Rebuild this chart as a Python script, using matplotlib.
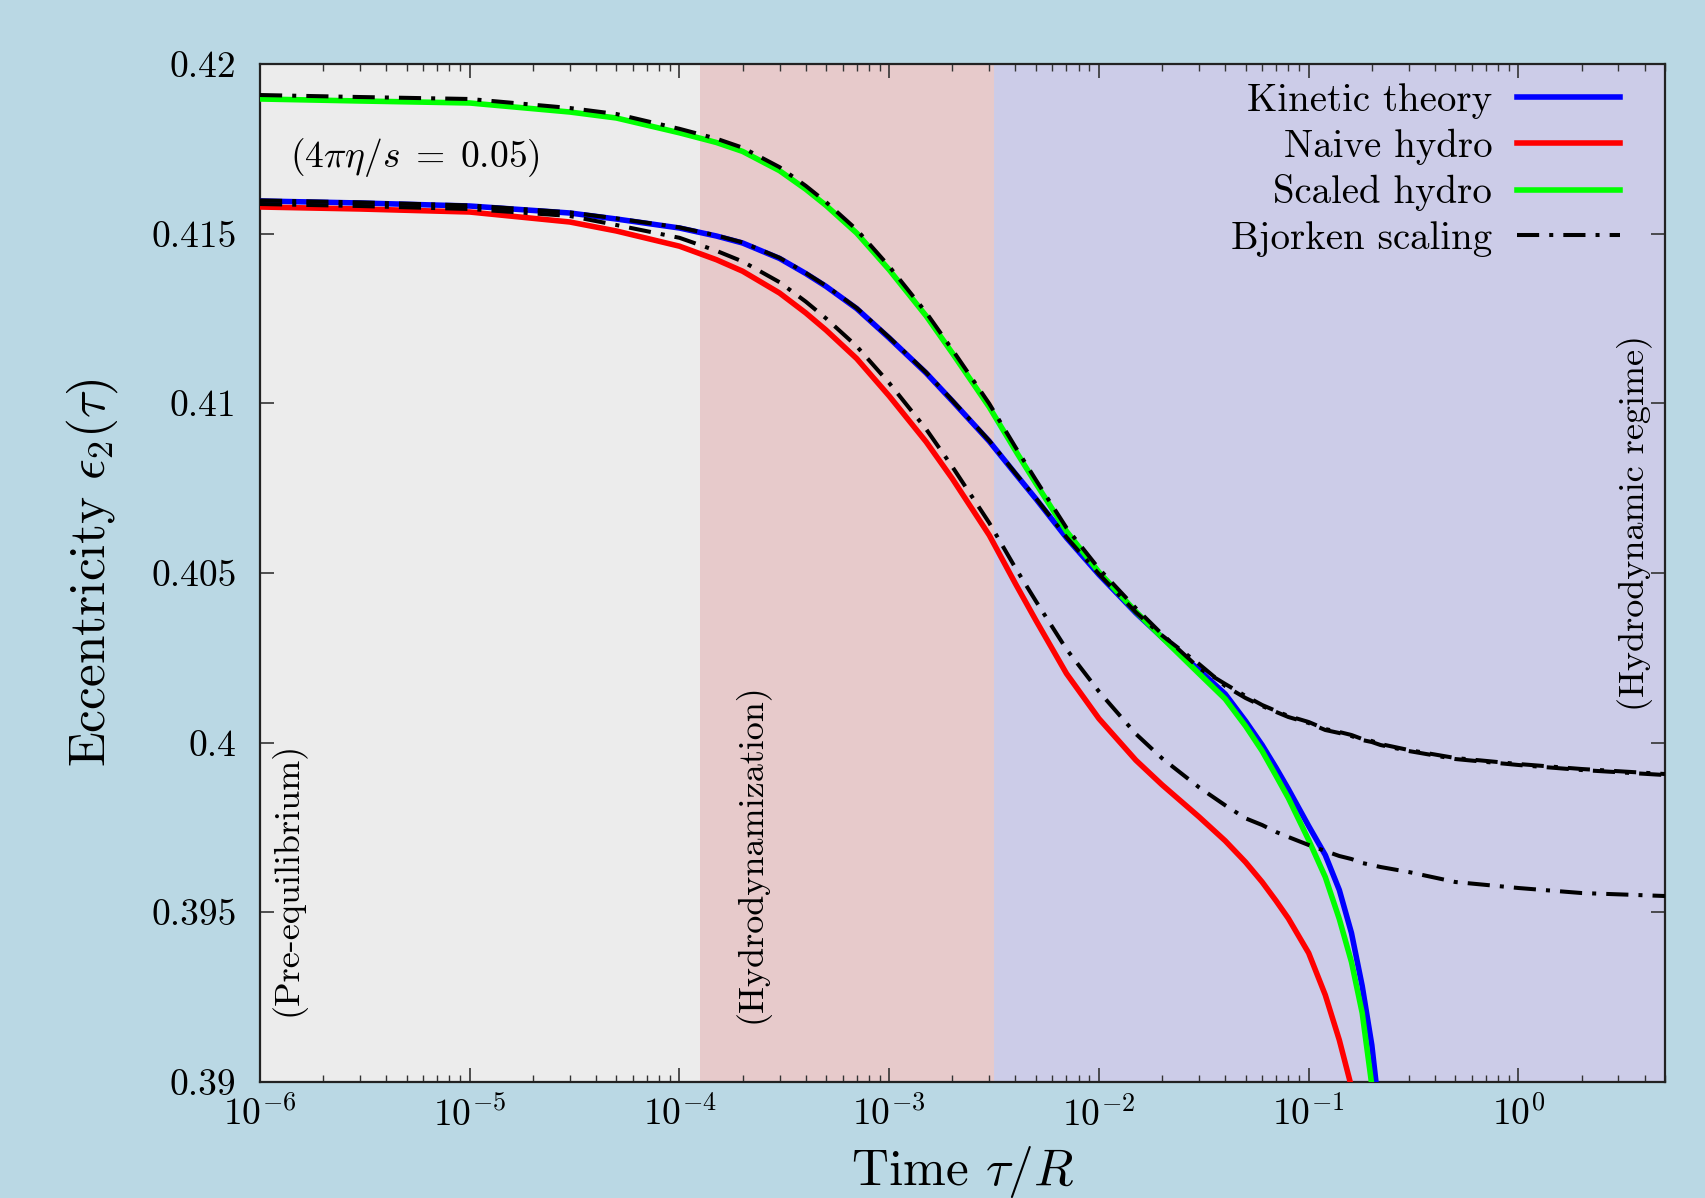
import numpy as np
import matplotlib
matplotlib.use("Agg")
import matplotlib.pyplot as plt

plt.rcParams['font.family'] = 'serif'
plt.rcParams['font.serif'] = ['cmr10', 'DejaVu Serif']
plt.rcParams['mathtext.fontset'] = 'cm'
plt.rcParams['axes.unicode_minus'] = False

# ---------------- data ----------------
tau = [1e-6, 3e-6, 1e-5, 3e-5, 5e-5, 1e-4, 1.5e-4, 2e-4, 3e-4, 4e-4, 5e-4, 7e-4,
       1e-3, 1.5e-3, 2e-3, 3e-3, 4e-3, 5e-3, 7e-3, 1e-2, 1.5e-2, 2e-2, 3e-2, 4e-2,
       5e-2, 6e-2, 7e-2, 8e-2, 0.1, 0.12, 0.14, 0.16, 0.18, 0.2, 0.22]

kinetic = [0.415963, 0.415904, 0.415815, 0.415609, 0.415432, 0.415167, 0.414931,
           0.414725, 0.414271, 0.413826, 0.413446, 0.412792, 0.411925, 0.410894,
           0.410069, 0.408881, 0.407923, 0.407189, 0.406040, 0.404953, 0.403821,
           0.403105, 0.402141, 0.401434, 0.400638, 0.399931, 0.399253, 0.398634,
           0.397544, 0.396689, 0.395658, 0.394390, 0.392829, 0.391090, 0.388821]

scaled = [0.418969, 0.418910, 0.418851, 0.418585, 0.418409, 0.417972, 0.417687,
          0.417424, 0.416856, 0.416310, 0.415830, 0.415017, 0.413935, 0.412576,
          0.411480, 0.409889, 0.408607, 0.407646, 0.406232, 0.405026, 0.403862,
          0.403096, 0.402035, 0.401287, 0.400491, 0.399754, 0.399017, 0.398369,
          0.397131, 0.396041, 0.394803, 0.393536, 0.392033, 0.389911, 0.387411]

tau_naive = tau[:33]
naive = [0.415786, 0.415727, 0.415638, 0.415344, 0.415079, 0.414631, 0.414233,
         0.413894, 0.413251, 0.412665, 0.412158, 0.411318, 0.410216, 0.408866,
         0.407779, 0.406114, 0.404684, 0.403609, 0.402038, 0.400709, 0.399483,
         0.398758, 0.397815, 0.397108, 0.396480, 0.395894, 0.395334, 0.394821,
         0.393801, 0.392564, 0.391237, 0.389852, 0.388732]

tau_bj = tau + [0.3, 0.5, 1.0, 2.0, 5.0]

bj_scaled = [0.419086, 0.419027, 0.418969, 0.418703, 0.418527, 0.418090, 0.417800,
             0.417534, 0.416960, 0.416410, 0.415930, 0.415117, 0.414035, 0.412676,
             0.411580, 0.409989, 0.408707, 0.407746, 0.406332, 0.405126, 0.403962,
             0.403196, 0.402200, 0.401729, 0.401375, 0.401110, 0.400933, 0.400786,
             0.400609, 0.400402, 0.400314, 0.400226, 0.400108, 0.400049, 0.399960,
             0.399783, 0.399548, 0.399371, 0.399224, 0.399076]

bj_kinetic = [0.415980, 0.415921, 0.415832, 0.415626, 0.415449, 0.415184, 0.414948,
              0.414742, 0.414288, 0.413843, 0.413463, 0.412809, 0.411942, 0.410911,
              0.410086, 0.408898, 0.407940, 0.407206, 0.406057, 0.404970, 0.403840,
              0.403160, 0.402318, 0.401670, 0.401316, 0.401081, 0.400904, 0.400756,
              0.400580, 0.400373, 0.400284, 0.400196, 0.400078, 0.400019, 0.399931,
              0.399754, 0.399518, 0.399342, 0.399194, 0.399046]

bj_naive = [0.415874, 0.415815, 0.415727, 0.415521, 0.415255, 0.414878, 0.414495,
            0.414180, 0.413570, 0.412998, 0.412503, 0.411681, 0.410599, 0.409240,
            0.408132, 0.406476, 0.405147, 0.404175, 0.402754, 0.401507, 0.400258,
            0.399539, 0.398684, 0.398154, 0.397771, 0.397573, 0.397367, 0.397220,
            0.396984, 0.396807, 0.396660, 0.396571, 0.396454, 0.396395, 0.396336,
            0.396188, 0.395894, 0.395717, 0.395569, 0.395481]

region_edges = [1e-6, 1.25e-4, 3.16e-3, 5.0]
region_colors = ['#ECECEC', '#E7CACB', '#CCCCE8']
region_labels = ['(Pre-equilibrium)', '(Hydrodynamization)', '(Hydrodynamic regime)']

yticks = [0.39, 0.395, 0.40, 0.405, 0.41, 0.415, 0.42]
ytick_labels = ['0.39', '0.395', '0.4', '0.405', '0.41', '0.415', '0.42']
xticks = [1e-6, 1e-5, 1e-4, 1e-3, 1e-2, 1e-1, 1e0]
xtick_labels = [r'$10^{-6}$', r'$10^{-5}$', r'$10^{-4}$', r'$10^{-3}$',
                r'$10^{-2}$', r'$10^{-1}$', r'$10^{0}$']

# ---------------- figure ----------------
bg = '#BAD8E4'
fig = plt.figure(figsize=(17.05, 11.98), dpi=100, facecolor=bg)
ax = fig.add_axes([260/1705, 1-1082/1198, 1405/1705, 1018/1198])
ax.set_xscale('log')
ax.set_xlim(1e-6, 5.0)
ax.set_ylim(0.39, 0.42)

for i in range(3):
    ax.axvspan(region_edges[i], region_edges[i+1], color=region_colors[i], lw=0, zorder=0)

lw_c = 4.0
dash = (5.5, 2.5, 1.0, 2.5)
ax.plot(tau, kinetic, color='#0000FF', lw=lw_c, label='Kinetic theory', zorder=3,
        solid_joinstyle='round')
ax.plot(tau_naive, naive, color='#FF0000', lw=lw_c, label='Naive hydro', zorder=3,
        solid_joinstyle='round')
ax.plot(tau, scaled, color='#00FF00', lw=lw_c, label='Scaled hydro', zorder=3,
        solid_joinstyle='round')
ax.plot(tau_bj, bj_kinetic, color='black', lw=2.9, dashes=dash, label='Bjorken scaling', zorder=4)
ax.plot(tau_bj, bj_scaled, color='black', lw=2.9, dashes=dash, zorder=4)
ax.plot(tau_bj, bj_naive, color='black', lw=2.9, dashes=dash, zorder=4)

ax.set_xticks(xticks)
ax.set_xticklabels(xtick_labels)
ax.set_yticks(yticks)
ax.set_yticklabels(ytick_labels)
ax.yaxis.set_minor_locator(matplotlib.ticker.NullLocator())
ax.xaxis.set_minor_locator(matplotlib.ticker.LogLocator(base=10, subs=np.arange(2, 10)))
ax.xaxis.set_minor_formatter(matplotlib.ticker.NullFormatter())
ax.tick_params(axis='both', which='major', direction='in', length=10, width=1.2,
               top=True, right=True, labelsize=27, colors='#333333', labelcolor='black')
ax.tick_params(axis='x', which='major', pad=10)
ax.tick_params(axis='y', which='major', pad=17)
ax.tick_params(axis='x', which='minor', direction='in', length=5, width=1.0,
               top=True, colors='#333333')
for s in ax.spines.values():
    s.set_linewidth(1.6)
    s.set_color('#222222')

ax.set_xlabel(r'Time $\tau/R$', fontsize=37, labelpad=8)
ax.set_ylabel(r'Eccentricity $\epsilon_2(\tau)$', fontsize=37, labelpad=22)

leg = ax.legend(loc='upper right', bbox_to_anchor=(0.9765, 0.993), frameon=False,
                markerfirst=False, fontsize=28, handlelength=2.65, handletextpad=0.64,
                labelspacing=0.25, borderaxespad=0.0, borderpad=0.3)

ax.text(0.0214, 0.9086, r'$(4\pi\eta/s\;=\;0.05)$', transform=ax.transAxes,
        fontsize=27, ha='left', va='center')
ax.text(0.0199, 0.20, region_labels[0], transform=ax.transAxes, rotation=90,
        fontsize=26, ha='center', va='center')
ax.text(0.3495, 0.225, region_labels[1], transform=ax.transAxes, rotation=90,
        fontsize=26, ha='center', va='center')
ax.text(0.9786, 0.549, region_labels[2], transform=ax.transAxes, rotation=90,
        fontsize=26, ha='center', va='center')

fig.savefig('out.png', dpi=100, facecolor=bg)
